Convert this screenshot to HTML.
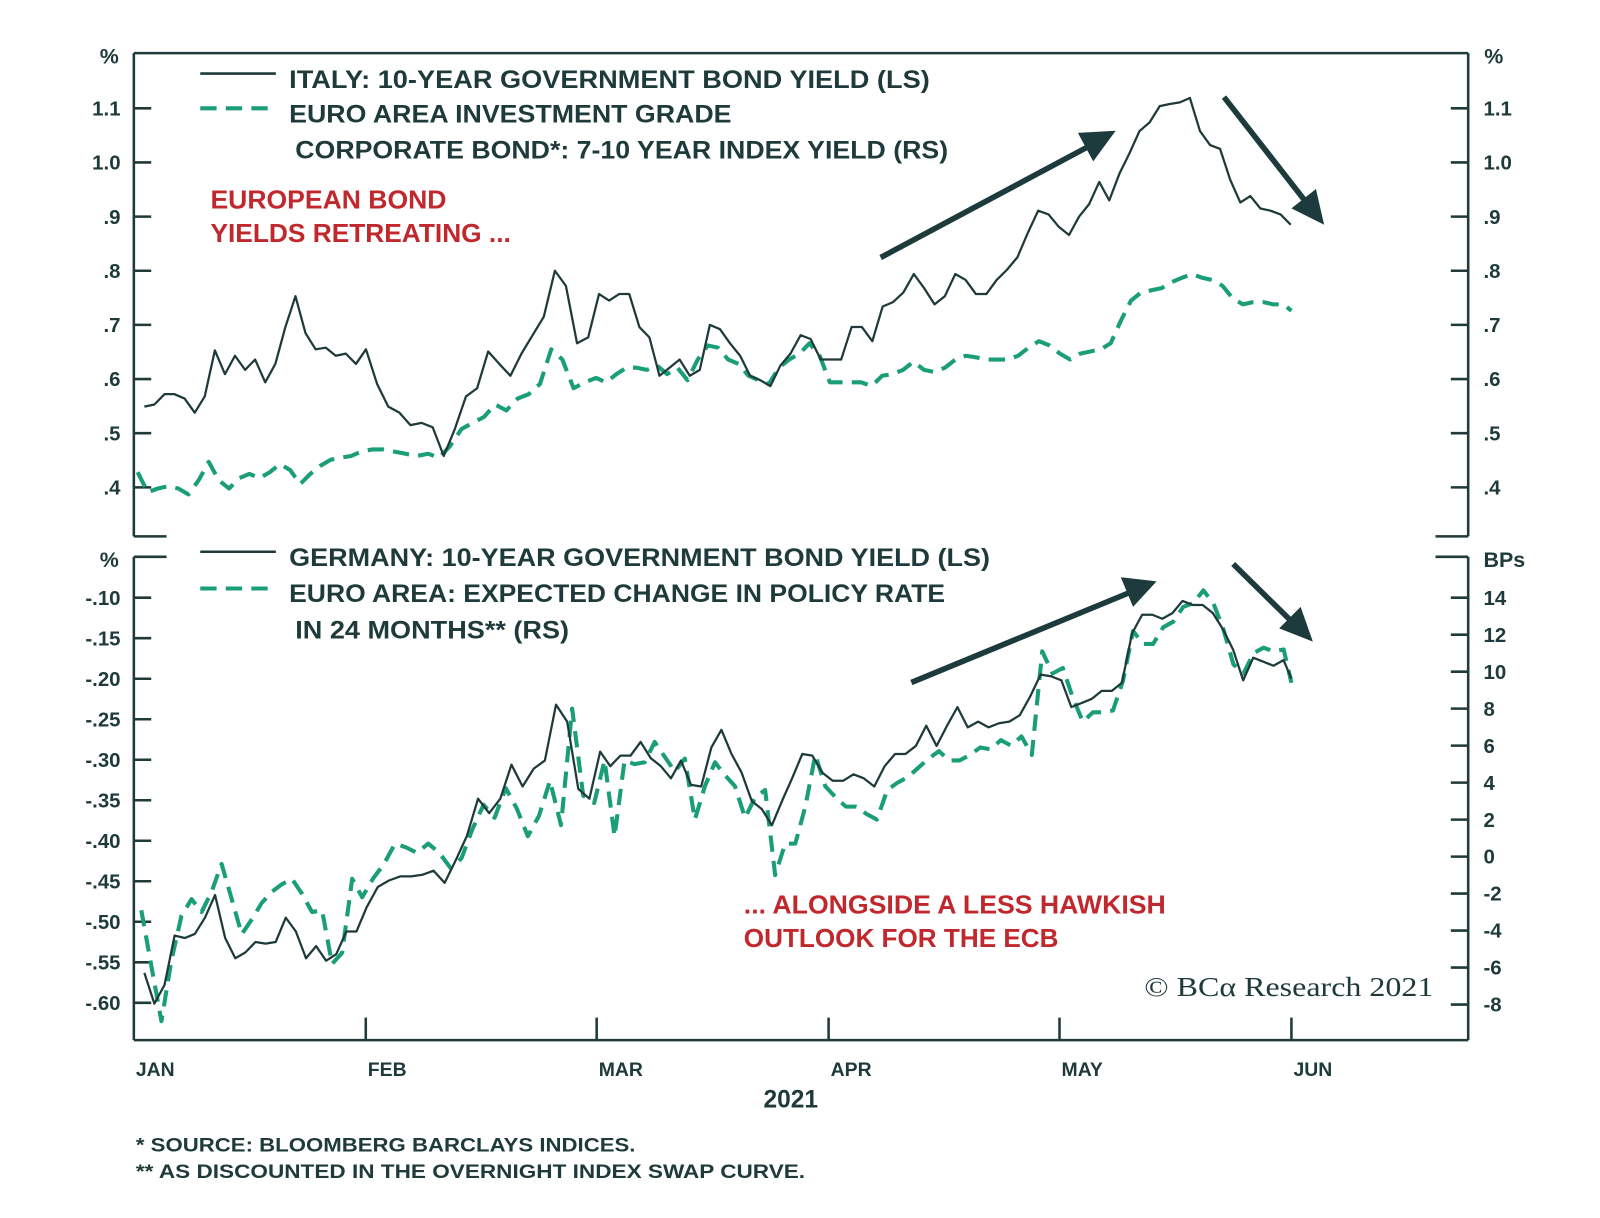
<!DOCTYPE html>
<html>
<head>
<meta charset="utf-8">
<style>
html,body{margin:0;padding:0;background:#fff;overflow:hidden;}
svg{display:block;}
.t{font-family:"Liberation Sans",sans-serif;font-weight:bold;fill:#1e3a3a;}
.r{font-family:"Liberation Sans",sans-serif;font-weight:bold;fill:#c0282d;}
</style>
</head>
<body>
<svg id="chart" width="1600" height="1218" viewBox="0 0 1600 1218" xmlns="http://www.w3.org/2000/svg">
 <g transform="scale(1.0217)">
  <g id="frame" stroke="#1e3a3a" stroke-width="2.5" fill="none">
    <line x1="131" y1="52" x2="1437" y2="52"/>
    <line x1="131" y1="52" x2="131" y2="525"/>
    <line x1="1437" y1="52" x2="1437" y2="525"/>
    <line x1="131" y1="525" x2="163" y2="525"/>
    <line x1="1405" y1="525" x2="1437" y2="525"/>
    <line x1="131" y1="545" x2="163" y2="545"/>
    <line x1="1405" y1="545" x2="1437" y2="545"/>
    <line x1="131" y1="545" x2="131" y2="1018"/>
    <line x1="1437" y1="545" x2="1437" y2="1018"/>
    <line x1="131" y1="1018" x2="1437" y2="1018"/>
  </g>
  <g id="ticks" stroke="#1e3a3a" stroke-width="2.5"></g>
  <g id="labels"></g>
  <g id="series" fill="none"></g>

  <text class="t" x="107" y="62" font-size="21" text-anchor="middle">%</text>
  <text class="t" x="1462" y="62" font-size="21" text-anchor="middle">%</text>
  <text class="t" x="107" y="555" font-size="21" text-anchor="middle">%</text>
  <text class="t" x="1452" y="555" font-size="21">BPs</text>

  <g>
    <line x1="196" y1="72" x2="270" y2="72" stroke="#1e3a3a" stroke-width="2.5"/>
    <text class="t" x="283" y="86" font-size="24" textLength="627" lengthAdjust="spacingAndGlyphs">ITALY: 10-YEAR GOVERNMENT BOND YIELD (LS)</text>
    <line x1="196" y1="106" x2="270" y2="106" stroke="#1a9e78" stroke-width="4" stroke-dasharray="16,9"/>
    <text class="t" x="283" y="120" font-size="24" textLength="433" lengthAdjust="spacingAndGlyphs">EURO AREA INVESTMENT GRADE</text>
    <text class="t" x="289" y="155" font-size="24" textLength="639" lengthAdjust="spacingAndGlyphs">CORPORATE BOND*: 7-10 YEAR INDEX YIELD (RS)</text>
  </g>
  <g>
    <line x1="196" y1="540" x2="270" y2="540" stroke="#1e3a3a" stroke-width="2.5"/>
    <text class="t" x="283" y="554" font-size="24" textLength="686" lengthAdjust="spacingAndGlyphs">GERMANY: 10-YEAR GOVERNMENT BOND YIELD (LS)</text>
    <line x1="196" y1="576" x2="270" y2="576" stroke="#1a9e78" stroke-width="4" stroke-dasharray="16,9"/>
    <text class="t" x="283" y="589" font-size="24" textLength="642" lengthAdjust="spacingAndGlyphs">EURO AREA: EXPECTED CHANGE IN POLICY RATE</text>
    <text class="t" x="289" y="625" font-size="24" textLength="268" lengthAdjust="spacingAndGlyphs">IN 24 MONTHS** (RS)</text>
  </g>

  <text class="r" x="206" y="204" font-size="25" textLength="231" lengthAdjust="spacingAndGlyphs">EUROPEAN BOND</text>
  <text class="r" x="206" y="237" font-size="25" textLength="294" lengthAdjust="spacingAndGlyphs">YIELDS RETREATING ...</text>
  <text class="r" x="728" y="894" font-size="25" textLength="413" lengthAdjust="spacingAndGlyphs">... ALONGSIDE A LESS HAWKISH</text>
  <text class="r" x="728" y="927" font-size="25" textLength="308" lengthAdjust="spacingAndGlyphs">OUTLOOK FOR THE ECB</text>

  <g stroke="#1d3b3c" stroke-width="5.5" fill="#1d3b3c">
    <line x1="862" y1="252" x2="1068" y2="142"/><polygon points="1092,128 1055,130 1070,158" stroke="none"/>
    <line x1="1198" y1="95" x2="1280" y2="200"/><polygon points="1296,220 1264,204 1288,185" stroke="none"/>
    <line x1="892" y1="668" x2="1108" y2="579"/><polygon points="1132,569 1097,565 1109,594" stroke="none"/>
    <line x1="1207" y1="552" x2="1268" y2="612"/><polygon points="1285,628 1252,615 1273,594" stroke="none"/>
  </g>

  <text x="1120" y="975" font-size="27" font-family="Liberation Serif, serif" fill="#1e3a3a" textLength="283" lengthAdjust="spacingAndGlyphs">© BCα Research 2021</text>
  <text class="t" x="774" y="1084" font-size="24" text-anchor="middle">2021</text>
  <text class="t" x="133" y="1127" font-size="19" textLength="489" lengthAdjust="spacingAndGlyphs">*  SOURCE: BLOOMBERG BARCLAYS INDICES.</text>
  <text class="t" x="133" y="1153" font-size="19" textLength="655" lengthAdjust="spacingAndGlyphs">** AS DISCOUNTED IN THE OVERNIGHT INDEX SWAP CURVE.</text>
 </g>
</svg>
<script>
// ---- data ----
const monthLabels = ["JAN","FEB","MAR","APR","MAY","JUN"];
const monthStartDays = [0,31,59,90,120,151];
const topTicks = [1.1,1.0,0.9,0.8,0.7,0.6,0.5,0.4];
const topTickLabels = ["1.1","1.0",".9",".8",".7",".6",".5",".4"];
const bottomLeftTicks = [-0.10,-0.15,-0.20,-0.25,-0.30,-0.35,-0.40,-0.45,-0.50,-0.55,-0.60];
const bottomLeftTickLabels = ["-.10","-.15","-.20","-.25","-.30","-.35","-.40","-.45","-.50","-.55","-.60"];
const bottomRightTicks = [14,12,10,8,6,4,2,0,-2,-4,-6,-8];
const bottomRightTickLabels = ["14","12","10","8","6","4","2","0","-2","-4","-6","-8"];

const italyDays = [1.4, 150.9];
const italy = [.549,.553,.572,.572,.564,.538,.568,.653,.609,.643,.617,.636,.594,.628,.696,.753,.685,.655,.658,.643,.647,.628,.655,.591,.549,.538,.515,.519,.511,.458,.508,.568,.583,.651,.628,.606,.647,.681,.715,.80,.772,.666,.677,.757,.745,.757,.757,.696,.677,.606,.621,.636,.606,.617,.70,.692,.666,.643,.606,.598,.587,.625,.647,.681,.674,.636,.636,.636,.696,.696,.670,.734,.742,.760,.794,.768,.738,.753,.794,.783,.757,.757,.783,.802,.825,.87,.911,.904,.881,.866,.9,.923,.964,.930,.979,1.017,1.058,1.074,1.104,1.108,1.111,1.119,1.058,1.032,1.025,.968,.926,.938,.915,.911,.904,.885];

const euroIgDays = [0.5, 151.3];
const euroIg = [.428,.391,.398,.402,.398,.387,.413,.447,.413,.398,.417,.425,.417,.428,.443,.432,.406,.425,.440,.451,.455,.458,.466,.470,.470,.466,.462,.458,.462,.455,.477,.508,.519,.530,.553,.542,.564,.572,.591,.655,.636,.583,.594,.602,.594,.609,.621,.621,.617,.625,.609,.621,.598,.636,.662,.658,.636,.628,.606,.598,.591,.621,.636,.647,.666,.643,.594,.594,.594,.594,.587,.606,.609,.617,.632,.617,.613,.621,.636,.643,.640,.636,.636,.636,.643,.658,.670,.662,.647,.636,.647,.651,.655,.666,.708,.745,.760,.764,.768,.779,.787,.794,.787,.783,.772,.749,.738,.742,.742,.738,.738,.726];

const germanyDays = [1.4, 151.3];
const germany = [-.563,-.601,-.578,-.517,-.520,-.515,-.495,-.467,-.520,-.545,-.538,-.525,-.527,-.525,-.495,-.512,-.545,-.530,-.548,-.540,-.512,-.512,-.482,-.457,-.449,-.444,-.444,-.442,-.437,-.452,-.424,-.394,-.348,-.366,-.348,-.306,-.333,-.311,-.301,-.232,-.253,-.336,-.348,-.290,-.308,-.295,-.295,-.278,-.298,-.308,-.323,-.301,-.331,-.333,-.285,-.263,-.293,-.316,-.351,-.361,-.381,-.351,-.323,-.293,-.295,-.316,-.326,-.326,-.318,-.323,-.333,-.308,-.293,-.293,-.283,-.258,-.283,-.258,-.235,-.260,-.253,-.260,-.255,-.253,-.245,-.222,-.195,-.197,-.202,-.235,-.230,-.225,-.215,-.215,-.205,-.144,-.121,-.121,-.126,-.119,-.104,-.109,-.109,-.119,-.139,-.164,-.202,-.174,-.179,-.184,-.177,-.200];

const policyDays = [1.0, 151.3];
const policy = [-2.9,-5.9,-8.9,-5.6,-3.2,-2.3,-3.0,-1.9,-0.4,-2.3,-4.2,-3.4,-2.5,-1.9,-1.5,-1.2,-2.0,-3.0,-2.9,-5.8,-5.2,-1.2,-2.2,-1.2,-0.4,0.7,0.5,0.2,0.7,0.2,-0.6,-0.1,1.5,2.8,2.1,3.7,2.6,1.1,2.2,4.1,1.7,8.0,3.3,2.9,5.2,1.1,5.2,5.0,5.1,6.2,5.4,4.6,5.3,2.0,3.8,5.1,4.4,3.8,2.1,3.2,3.6,-1.0,0.7,0.7,2.7,5.5,3.8,3.2,2.7,2.7,2.3,2.0,3.6,4.0,4.3,4.8,5.3,5.7,5.2,5.2,5.5,5.9,5.8,6.3,6.0,6.5,5.5,11.1,9.9,10.2,8.6,7.3,7.8,7.8,7.9,9.5,12.2,11.5,11.5,12.4,12.7,13.5,13.7,14.4,13.7,12.3,10.4,9.9,11.0,11.3,11.1,11.2,9.4];

// ---- scales ----
const monthTickX = [131,358,584,811,1037,1264];
function xScale(day){
  for(let i=0;i<monthStartDays.length-1;i++){
    if(day<=monthStartDays[i+1]){
      const f=(day-monthStartDays[i])/(monthStartDays[i+1]-monthStartDays[i]);
      return monthTickX[i]+f*(monthTickX[i+1]-monthTickX[i]);
    }
  }
  return monthTickX[monthTickX.length-1];
}
const yTop = v => 106 + (1.1 - v) * 530;
const yBotL = v => 585 + (-0.10 - v) * 793;
const yBotR = v => 585 + (14 - v) * 18.1;

const NS="http://www.w3.org/2000/svg";
function mk(tag, attrs, parent){
  const e=document.createElementNS(NS,tag);
  for(const k in attrs) e.setAttribute(k,attrs[k]);
  parent.appendChild(e); return e;
}
const ticksG=document.getElementById('ticks');
const labelsG=document.getElementById('labels');
const seriesG=document.getElementById('series');

topTicks.forEach((v,i)=>{
  const y=yTop(v);
  const l=mk('line',{x1:131,y1:y,x2:148,y2:y},ticksG);
  
  
  const r=mk('line',{x1:1420,y1:y,x2:1437,y2:y},ticksG);
  
  
  const t=mk('text',{x:118,y:y+7,'font-size':20,'text-anchor':'end',class:'t'},labelsG);
  t.textContent=topTickLabels[i];
  
  
  const t2=mk('text',{x:1452,y:y+7,'font-size':20,class:'t'},labelsG);
  t2.textContent=topTickLabels[i];
  
  
});
bottomLeftTicks.forEach((v,i)=>{
  const y=yBotL(v);
  const l=mk('line',{x1:131,y1:y,x2:148,y2:y},ticksG);
  
  
  const t=mk('text',{x:118,y:y+7,'font-size':20,'text-anchor':'end',class:'t'},labelsG);
  t.textContent=bottomLeftTickLabels[i];
  
  
});
bottomRightTicks.forEach((v,i)=>{
  const y=yBotR(v);
  const l=mk('line',{x1:1420,y1:y,x2:1437,y2:y},ticksG);
  
  
  const t=mk('text',{x:1452,y:y+7,'font-size':20,class:'t'},labelsG);
  t.textContent=bottomRightTickLabels[i];
  
  
});
monthLabels.forEach((m,i)=>{
  const x=xScale(monthStartDays[i]);
  if(i>0){
    const l=mk('line',{x1:x,y1:996,x2:x,y2:1018},ticksG);
    
    
  }
  const t=mk('text',{x:x+2,y:1053,'font-size':19,class:'t'},labelsG);
  t.textContent=m;
  
  
});

function drawSeries(vals, days, yf, style, name){
  const n=vals.length;
  const pts=vals.map((v,i)=>{
    const d=days[0]+(days[1]-days[0])*i/(n-1);
    return xScale(d).toFixed(1)+','+yf(v).toFixed(1);
  }).join(' ');
  const p=mk('polyline',Object.assign({points:pts,fill:'none','stroke-linejoin':'round'},style),seriesG);
  
  
}
drawSeries(euroIg, euroIgDays, yTop, {stroke:'#1a9e78','stroke-width':4,'stroke-dasharray':'16,9'}, 'euro-ig-yield-line');
drawSeries(italy, italyDays, yTop, {stroke:'#1e3a3a','stroke-width':2.2}, 'italy-yield-line');
drawSeries(policy, policyDays, yBotR, {stroke:'#1a9e78','stroke-width':4,'stroke-dasharray':'16,9'}, 'policy-rate-change-line');
drawSeries(germany, germanyDays, yBotL, {stroke:'#1e3a3a','stroke-width':2.2}, 'germany-yield-line');
</script>
</body>
</html>
